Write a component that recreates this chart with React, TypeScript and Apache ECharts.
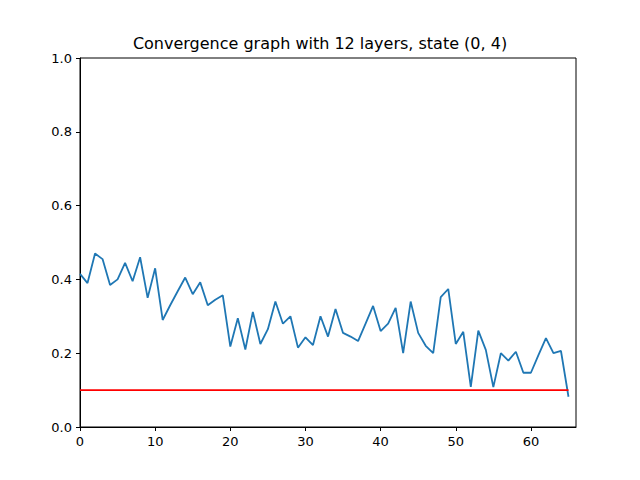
import React, { useEffect, useRef } from "react";
import * as echarts from "echarts";

const xs = Array.from({ length: 66 }, (_, i) => i);
const values = [
  0.415, 0.39, 0.47, 0.455, 0.385, 0.4, 0.445, 0.395, 0.46, 0.35,
  0.43, 0.29, 0.33, 0.368, 0.405, 0.36, 0.392, 0.33, 0.345, 0.357,
  0.218, 0.295, 0.21, 0.312, 0.225, 0.265, 0.34, 0.28, 0.3, 0.215,
  0.243, 0.222, 0.3, 0.245, 0.32, 0.255, 0.245, 0.233, 0.28, 0.328,
  0.26, 0.28, 0.323, 0.2, 0.34, 0.255, 0.22, 0.2, 0.352, 0.374,
  0.225, 0.258, 0.109, 0.261, 0.209, 0.108, 0.2, 0.18, 0.204, 0.147,
  0.147, 0.195, 0.241, 0.2, 0.206, 0.082,
];
const threshold = 0.1;
const title = "Convergence graph with 12 layers, state (0, 4)";

export default function App() {
  const ref = useRef<HTMLDivElement>(null);
  useEffect(() => {
    document.body.style.margin = "0";
    const chart = echarts.init(ref.current!, null, { renderer: "svg" });
    const axisCommon = {
      axisLine: { show: true, lineStyle: { color: "#000", width: 1 } },
      axisTick: { show: true, inside: false, length: 4, lineStyle: { color: "#000" } },
      axisLabel: { color: "#000", fontSize: 13, fontFamily: "DejaVu Sans" },
      splitLine: { show: false },
    };
    chart.setOption({
      animation: false,
      title: {
        text: title,
        left: "center",
        top: 30,
        textStyle: { fontSize: 16, fontWeight: "normal", color: "#000", fontFamily: "DejaVu Sans" },
      },
      grid: { left: 80, right: 64, top: 58, bottom: 53, show: true, borderColor: "#000", borderWidth: 1 },
      xAxis: {
        type: "value", min: 0, max: 66, interval: 10, ...axisCommon,
        axisLabel: { ...axisCommon.axisLabel, showMaxLabel: false },
        axisTick: { ...axisCommon.axisTick, customValues: [0, 10, 20, 30, 40, 50, 60] },
      },
      yAxis: {
        type: "value", min: 0, max: 1, interval: 0.2, ...axisCommon,
        axisLabel: { ...axisCommon.axisLabel, formatter: (v: number) => v.toFixed(1) },
      },
      series: [
        {
          type: "line",
          data: xs.map((x, i) => [x, values[i]]),
          showSymbol: false,
          lineStyle: { color: "#1f77b4", width: 1.8 },
        },
        {
          type: "line",
          data: [[0, threshold], [65, threshold]],
          showSymbol: false,
          lineStyle: { color: "#ff0000", width: 1.8 },
        },
      ],
    });
    return () => chart.dispose();
  }, []);
  return <div ref={ref} style={{ width: 640, height: 480 }} />;
}
